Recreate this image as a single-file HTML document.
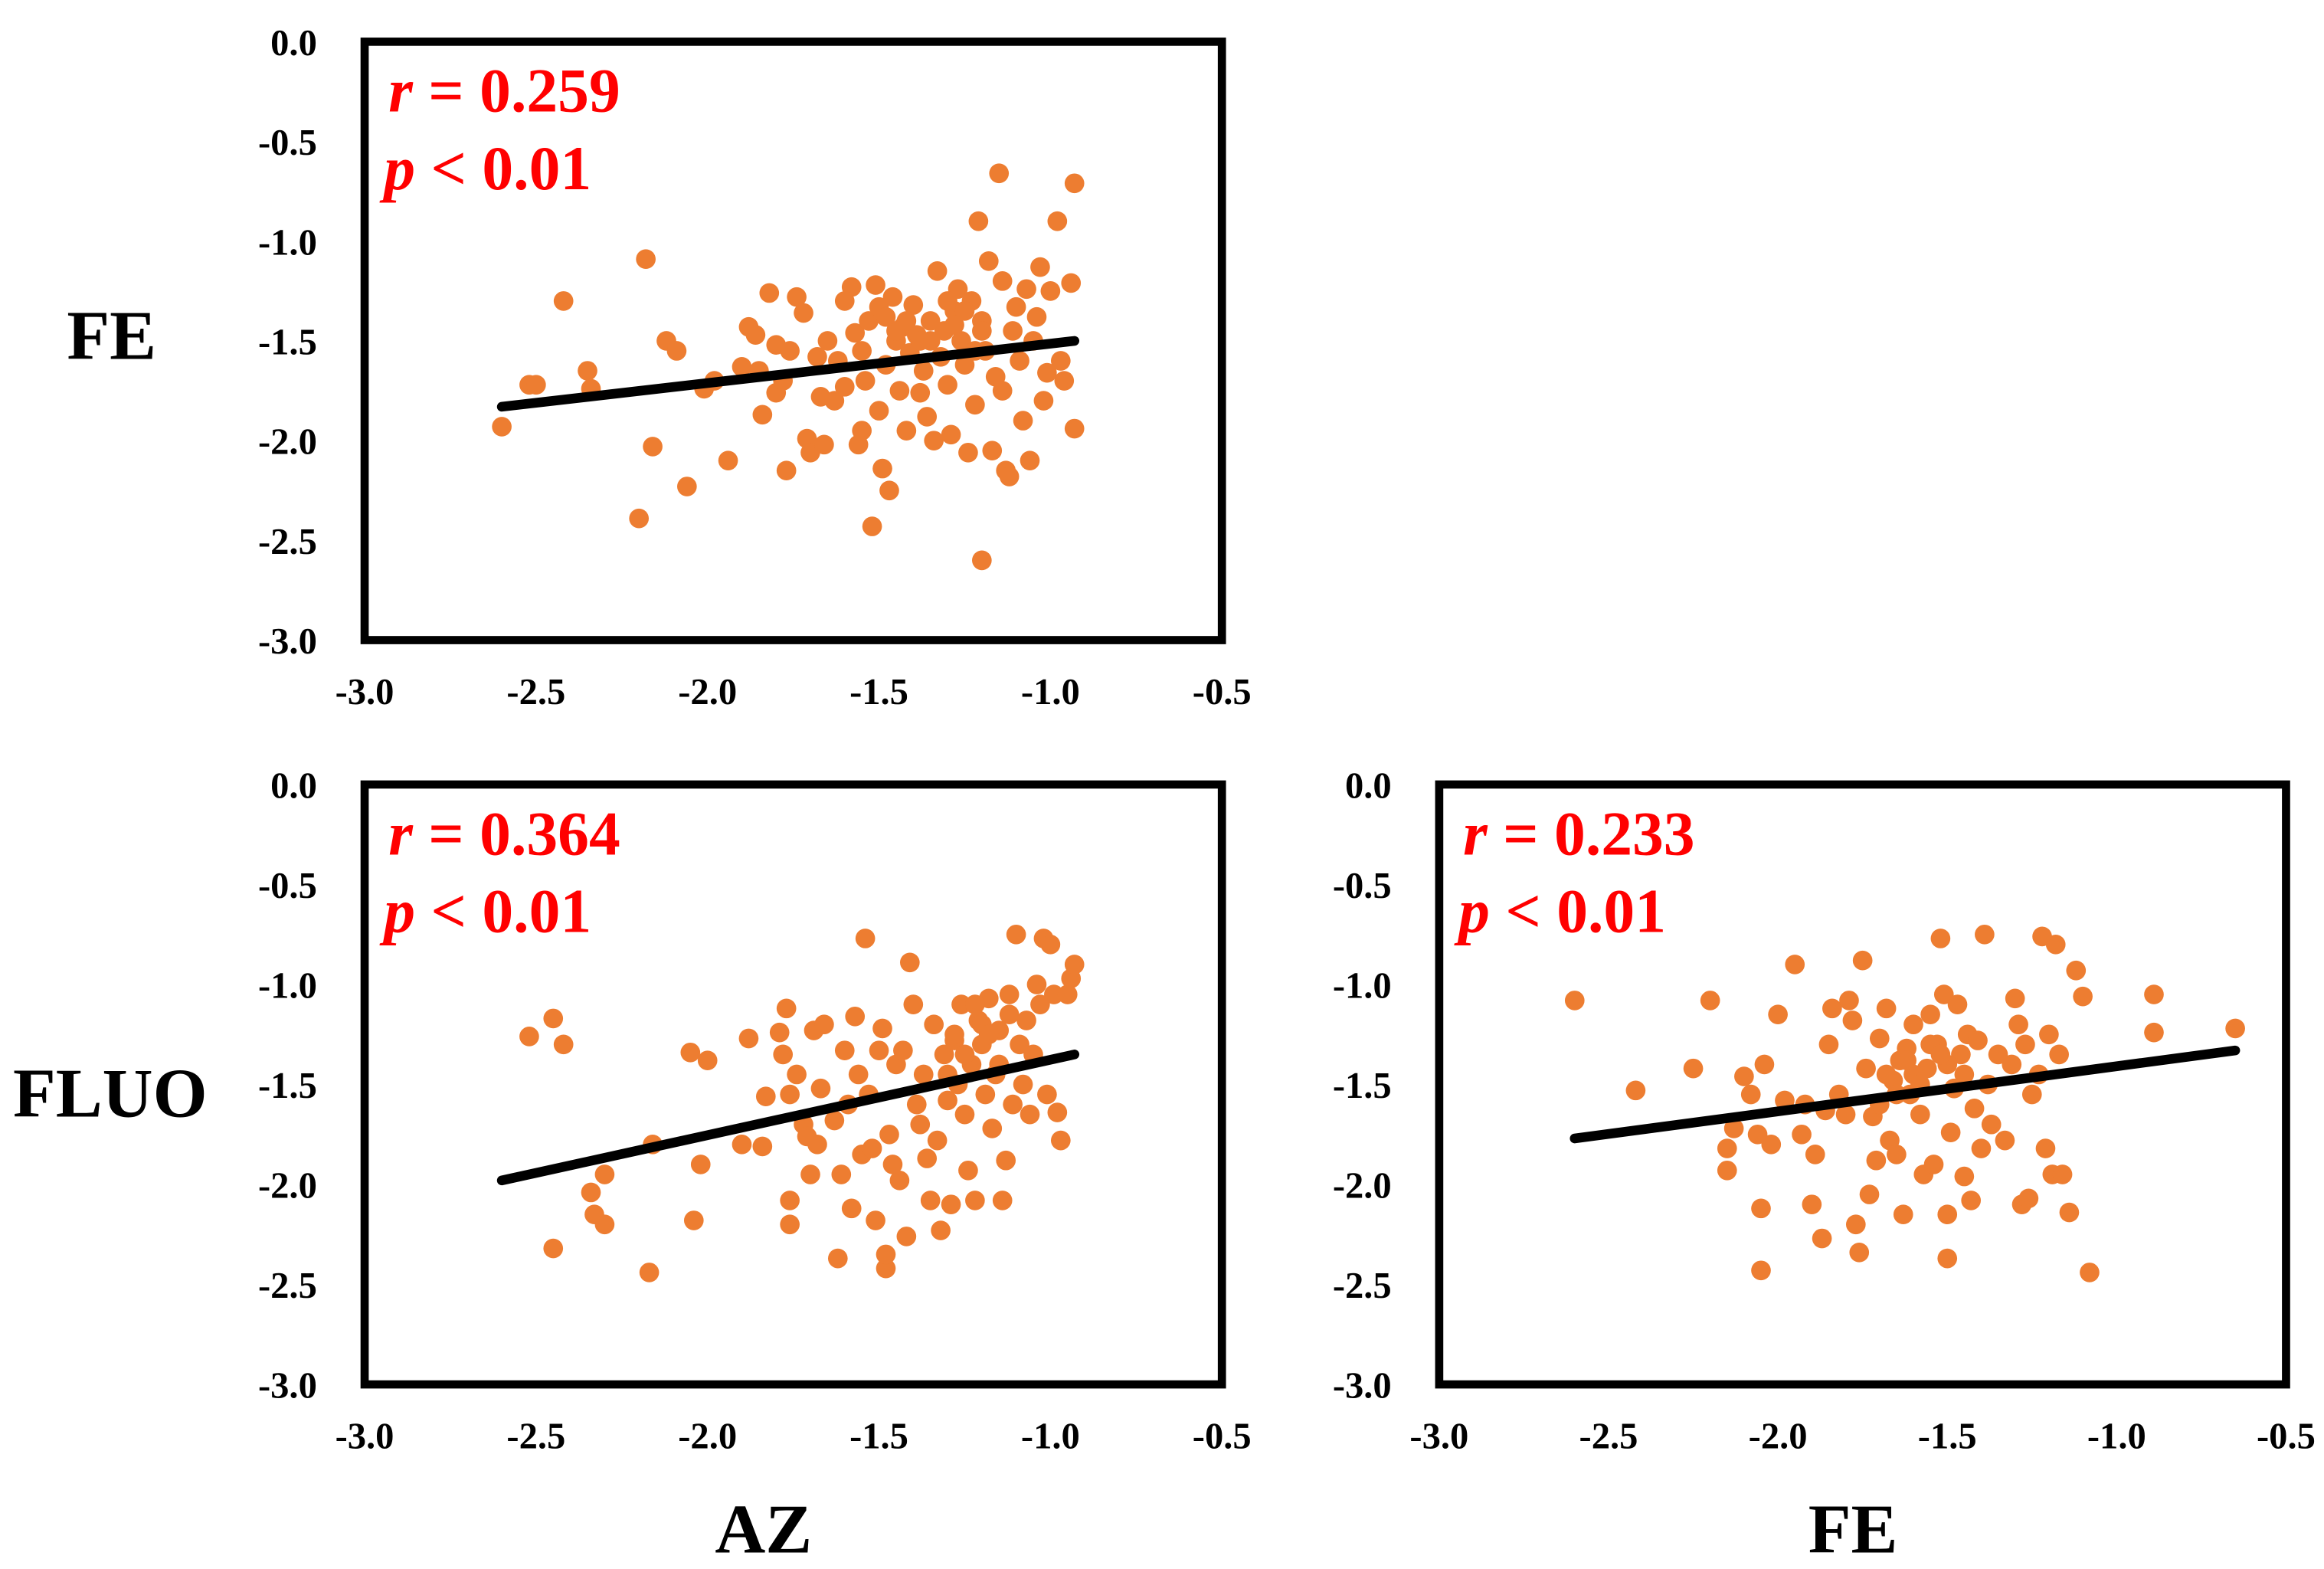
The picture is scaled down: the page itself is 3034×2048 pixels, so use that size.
<!DOCTYPE html>
<html><head><meta charset="utf-8"><style>
html,body{margin:0;padding:0;background:#fff;}
svg{display:block;}
text{font-family:"Liberation Serif",serif;font-weight:bold;}
</style></head><body>
<svg id="fig" width="3034" height="2048" viewBox="0 0 1561.5 1054" preserveAspectRatio="none" xmlns="http://www.w3.org/2000/svg"></svg>
<script>
// Panel 1: AZ vs FE
const az1 = [-2.6,-2.52,-2.5,-2.42,-2.35,-2.34,-2.18,-2.16,-2.2,-2.12,-2.09,-2.06,-2.01,-1.98,-1.94,-1.9,-1.88,-1.86,-1.85,-1.84,-1.82,-1.8,-1.8,-1.78,-1.77,-1.76,-1.74,-1.72,-1.71,-1.7,-1.68,-1.67,-1.66,-1.65,-1.63,-1.62,-1.6,-1.58,-1.57,-1.56,-1.55,-1.54,-1.53,-1.52,-1.51,-1.5,-1.5,-1.49,-1.48,-1.47,-1.46,-1.45,-1.44,-1.43,-1.42,-1.41,-1.4,-1.39,-1.38,-1.37,-1.36,-1.35,-1.34,-1.33,-1.32,-1.31,-1.3,-1.29,-1.28,-1.27,-1.26,-1.25,-1.24,-1.23,-1.22,-1.21,-1.2,-1.2,-1.19,-1.18,-1.17,-1.16,-1.15,-1.14,-1.14,-1.13,-1.12,-1.11,-1.1,-1.09,-1.08,-1.07,-1.06,-1.05,-1.04,-1.03,-1.02,-1.01,-1.0,-0.98,-0.97,-0.96,-0.94,-0.93,-0.93,-1.3,-1.38,-1.45,-1.2,-1.25,-1.55,-1.6,-1.35,-1.42,-1.28,-1.22,-1.48];
const fe1 = [-1.93,-1.72,-1.72,-1.3,-1.65,-1.74,-1.09,-2.03,-2.39,-1.5,-1.55,-2.23,-1.74,-1.7,-2.1,-1.63,-1.43,-1.47,-1.65,-1.87,-1.26,-1.52,-1.76,-1.7,-2.15,-1.55,-1.28,-1.36,-1.99,-2.06,-1.58,-1.78,-2.02,-1.5,-1.8,-1.6,-1.73,-1.23,-1.46,-2.02,-1.95,-1.7,-1.4,-2.43,-1.22,-1.33,-1.85,-2.14,-1.62,-2.25,-1.28,-1.5,-1.75,-1.43,-1.95,-1.56,-1.32,-1.47,-1.76,-1.65,-1.88,-1.4,-2.0,-1.15,-1.58,-1.45,-1.72,-1.97,-1.35,-1.24,-1.5,-1.62,-2.06,-1.3,-1.82,-0.9,-2.6,-1.4,-1.55,-1.1,-2.05,-1.68,-0.66,-1.2,-1.75,-2.15,-2.18,-1.45,-1.33,-1.6,-1.9,-1.24,-2.1,-1.5,-1.38,-1.13,-1.8,-1.66,-1.25,-0.9,-1.6,-1.7,-1.21,-0.71,-1.94,-1.3,-1.5,-1.45,-1.45,-1.35,-1.55,-1.3,-1.5,-1.4,-1.42,-1.55,-1.38];
const fit1X = [-2.6,-0.93];
const fit1Y = [-1.83,-1.5];

// Panel 2: AZ vs FLUO
const az2 = [-2.52,-2.45,-2.42,-2.45,-2.34,-2.33,-2.3,-2.3,-2.17,-2.16,-2.05,-2.04,-2.02,-2.0,-1.9,-1.88,-1.84,-1.83,-1.79,-1.78,-1.77,-1.76,-1.76,-1.76,-1.74,-1.72,-1.71,-1.7,-1.69,-1.68,-1.67,-1.66,-1.63,-1.62,-1.61,-1.6,-1.59,-1.58,-1.57,-1.56,-1.55,-1.54,-1.53,-1.52,-1.51,-1.5,-1.49,-1.48,-1.48,-1.47,-1.46,-1.45,-1.44,-1.43,-1.42,-1.41,-1.4,-1.39,-1.38,-1.37,-1.36,-1.35,-1.34,-1.33,-1.32,-1.31,-1.3,-1.29,-1.28,-1.27,-1.26,-1.25,-1.24,-1.23,-1.22,-1.21,-1.2,-1.19,-1.18,-1.17,-1.16,-1.15,-1.14,-1.13,-1.12,-1.11,-1.1,-1.09,-1.08,-1.07,-1.06,-1.05,-1.04,-1.03,-1.02,-1.01,-1.0,-0.99,-0.98,-0.97,-0.95,-0.94,-0.93,-1.2,-1.25,-1.15,-1.3,-1.22,-1.18,-1.12,-1.28];
const fluo2 = [-1.26,-1.17,-1.3,-2.32,-2.04,-2.15,-1.95,-2.2,-2.44,-1.8,-1.34,-2.18,-1.9,-1.38,-1.8,-1.27,-1.81,-1.56,-1.24,-1.35,-1.12,-1.55,-2.08,-2.2,-1.45,-1.7,-1.76,-1.95,-1.23,-1.8,-1.52,-1.2,-1.68,-2.37,-1.95,-1.33,-1.6,-2.12,-1.16,-1.45,-1.85,-0.77,-1.55,-1.82,-2.18,-1.33,-1.22,-2.42,-2.35,-1.75,-1.9,-1.4,-1.98,-1.33,-2.26,-0.89,-1.1,-1.6,-1.7,-1.45,-1.87,-2.08,-1.2,-1.78,-2.23,-1.35,-1.58,-2.1,-1.28,-1.5,-1.1,-1.65,-1.93,-1.4,-2.08,-1.18,-1.3,-1.55,-1.07,-1.72,-1.45,-1.23,-2.08,-1.88,-1.05,-1.6,-0.75,-1.3,-1.5,-1.18,-1.65,-1.35,-1.0,-1.1,-0.77,-1.55,-0.8,-1.05,-1.64,-1.78,-1.05,-0.97,-0.9,-1.2,-1.35,-1.4,-1.45,-1.1,-1.25,-1.15,-1.25];
const fit2X = [-2.6,-0.93];
const fit2Y = [-1.98,-1.35];

// Panel 3: FE vs FLUO
const fe3 = [-2.6,-2.42,-2.25,-2.2,-2.15,-2.15,-2.13,-2.1,-2.08,-2.06,-2.05,-2.05,-2.04,-2.02,-2.0,-1.98,-1.95,-1.93,-1.92,-1.9,-1.89,-1.87,-1.86,-1.85,-1.84,-1.82,-1.8,-1.79,-1.78,-1.77,-1.76,-1.75,-1.74,-1.73,-1.72,-1.71,-1.7,-1.68,-1.67,-1.66,-1.65,-1.64,-1.63,-1.62,-1.61,-1.6,-1.58,-1.57,-1.56,-1.55,-1.54,-1.53,-1.52,-1.51,-1.5,-1.5,-1.49,-1.48,-1.47,-1.46,-1.45,-1.44,-1.43,-1.42,-1.41,-1.4,-1.39,-1.38,-1.37,-1.35,-1.33,-1.31,-1.3,-1.29,-1.28,-1.27,-1.26,-1.25,-1.23,-1.22,-1.21,-1.2,-1.19,-1.18,-1.17,-1.16,-1.14,-1.12,-1.1,-1.08,-0.89,-0.89,-0.65,-1.6,-1.55,-1.65,-1.7,-1.5,-1.45,-1.58,-1.62,-1.52,-1.68];
const fluo3 = [-1.08,-1.53,-1.42,-1.08,-1.82,-1.93,-1.72,-1.46,-1.55,-1.75,-2.12,-2.43,-1.4,-1.8,-1.15,-1.58,-0.9,-1.75,-1.6,-2.1,-1.85,-2.27,-1.63,-1.3,-1.12,-1.55,-1.65,-1.08,-1.18,-2.2,-2.34,-0.88,-1.42,-2.05,-1.66,-1.88,-1.27,-1.12,-1.78,-1.48,-1.85,-1.38,-2.15,-1.32,-1.55,-1.2,-1.65,-1.95,-1.42,-1.15,-1.9,-1.3,-0.77,-1.05,-2.37,-2.15,-1.74,-1.52,-1.1,-1.35,-1.96,-1.25,-2.08,-1.62,-1.28,-1.82,-0.75,-1.5,-1.7,-1.35,-1.78,-1.4,-1.07,-1.2,-2.1,-1.3,-2.07,-1.55,-1.45,-0.76,-1.82,-1.25,-1.95,-0.8,-1.35,-1.95,-2.14,-0.93,-1.06,-2.44,-1.05,-1.24,-1.22,-1.45,-1.3,-1.55,-1.6,-1.4,-1.45,-1.5,-1.38,-1.35,-1.45];
const fit3X = [-2.6,-0.65];
const fit3Y = [-1.77,-1.33];

const xTicks = [-3.0,-2.5,-2.0,-1.5,-1.0,-0.5];
const yTicks = [0.0,-0.5,-1.0,-1.5,-2.0,-2.5,-3.0];
const rLabels = ["0.259","0.364","0.233"];

const NS = "http://www.w3.org/2000/svg";
const svg = document.getElementById('fig');
function mk(tag, attrs, parent){const e=document.createElementNS(NS,tag);for(const k in attrs)e.setAttribute(k,attrs[k]);(parent||svg).appendChild(e);return e;}

function panel(name, L, T, R, B, xs, ys, fx, fy, rText){
  const g = mk('g',{});
  
  
  const sx = v => L + (v - (-3)) / 2.5 * (R - L);
  const sy = v => T + (0 - v) / 3 * (B - T);
  xTicks.forEach(t=>{
    const tx = mk('text',{x:sx(t),y:B+43,'font-size':25,'text-anchor':'middle',fill:'#000'},g);
    tx.textContent = t.toFixed(1);
    
    
  });
  yTicks.forEach(t=>{
    const ty = mk('text',{x:L-32,y:sy(t)+9,'font-size':25,'text-anchor':'end',fill:'#000'},g);
    ty.textContent = t.toFixed(1);
    
    
  });
  xs.forEach((x,i)=>{
    const c = mk('circle',{cx:sx(x),cy:sy(ys[i]),r:6.6,fill:'#ED7D31'},g);
    
    
  });
  const ln = mk('line',{x1:sx(fx[0]),y1:sy(fy[0]),x2:sx(fx[1]),y2:sy(fy[1]),stroke:'#000','stroke-width':6.5,'stroke-linecap':'round'},g);
  
  
  const box = mk('rect',{x:L,y:T,width:R-L,height:B-T,fill:'none',stroke:'#000','stroke-width':5.5},g);
  
  
  const rt = mk('text',{x:L+16,y:T+47,'font-size':42,fill:'#FF0000'},g);
  rt.innerHTML = '<tspan font-style="italic">r</tspan> = ' + rText;
  
  
  const pt = mk('text',{x:L+13,y:T+99,'font-size':42,fill:'#FF0000'},g);
  pt.innerHTML = '<tspan font-style="italic">p</tspan> &lt; 0.01';
  
  
}
panel('panel-az-fe', 245, 28, 821, 430, az1, fe1, fit1X, fit1Y, rLabels[0]);
panel('panel-az-fluo', 245, 527, 821, 930, az2, fluo2, fit2X, fit2Y, rLabels[1]);
panel('panel-fe-fluo', 967, 527, 1536, 930, fe3, fluo3, fit3X, fit3Y, rLabels[2]);

function label(txt, x, y, name){
  const t = mk('text',{x:x,y:y,'font-size':47,'text-anchor':'middle',fill:'#000'});
  t.textContent = txt;
  
  
}
label('FE', 75, 241, 'row-label-fe');
label('FLUO', 74, 750, 'row-label-fluo');
label('AZ', 513, 1043, 'x-axis-title-az');
label('FE', 1245, 1043, 'x-axis-title-fe');
</script>
</body></html>
